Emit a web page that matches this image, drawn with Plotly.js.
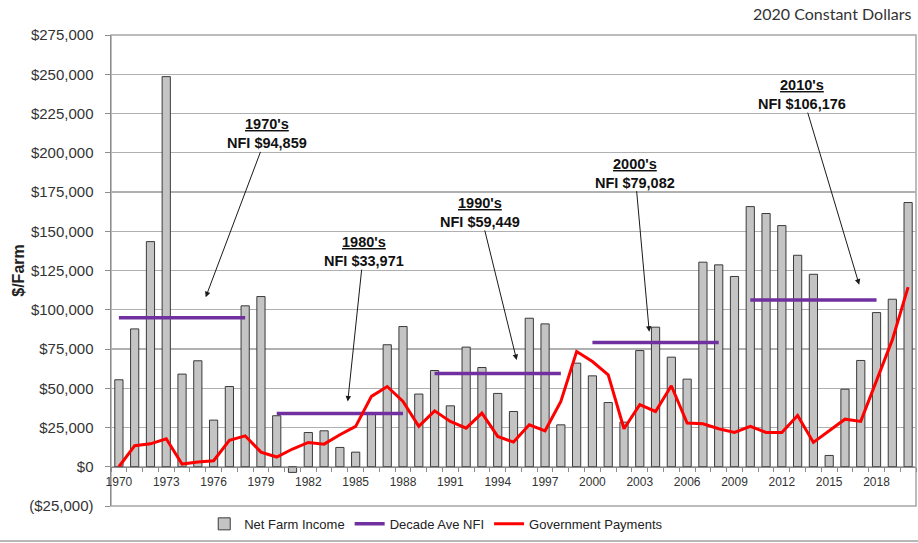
<!DOCTYPE html>
<html>
<head>
<meta charset="utf-8">
<script src="https://cdn.plot.ly/plotly-3.0.1.min.js"></script>
<style>
  html, body { margin: 0; padding: 0; background: #ffffff; }
  #chart { width: 918px; height: 543px; }
</style>
</head>
<body>
<div id="chart"></div>
<script>
// Farm income per farm, 1970-2020, in 2020 constant dollars
const years = [
  1970, 1971, 1972, 1973, 1974, 1975, 1976, 1977, 1978, 1979,
  1980, 1981, 1982, 1983, 1984, 1985, 1986, 1987, 1988, 1989,
  1990, 1991, 1992, 1993, 1994, 1995, 1996, 1997, 1998, 1999,
  2000, 2001, 2002, 2003, 2004, 2005, 2006, 2007, 2008, 2009,
  2010, 2011, 2012, 2013, 2014, 2015, 2016, 2017, 2018, 2019, 2020
];

// Net farm income, $/farm
const netFarmIncome = [
  55400, 87800, 143400, 248500, 59000, 67500, 29700, 51100, 102500, 108400,
  32500, -3600, 21800, 22900, 12300, 9300, 34000, 77700, 89300, 46300,
  61300, 38800, 76200, 63200, 46700, 35200, 94600, 91000, 26700, 66000,
  57900, 40900, 28400, 74000, 88900, 69800, 55800, 130300, 128600, 121200,
  165700, 161300, 153600, 134700, 122600, 7200, 49400, 67700, 98200, 106700, 168300
];

// Government payments, $/farm
const govPayments = [
  0, 13400, 14600, 17800, 1700, 3000, 3800, 16800, 19700, 9300,
  6200, 11300, 15500, 14400, 20400, 25700, 44800, 51100, 41600, 25700,
  35600, 28900, 24600, 34200, 19300, 15700, 26700, 22900, 41600, 73400,
  67000, 58600, 24200, 39500, 35200, 51600, 27800, 27400, 24200, 21800,
  25700, 21800, 21800, 32700, 15500, 22700, 30300, 28900, 54300, 80800, 114400
];

// Decade averages of net farm income
const decadeLabels = ["1970's", "1980's", "1990's", "2000's", "2010's"];
const decadeStart  = [1970, 1980, 1990, 2000, 2010];
const decadeEnd    = [1978, 1988, 1998, 2008, 2018];
const decadeAvg    = [94859, 33971, 59449, 79082, 106176];

// Axis ticks
const xTickYears = [1970, 1973, 1976, 1979, 1982, 1985, 1988, 1991, 1994, 1997, 2000, 2003, 2006, 2009, 2012, 2015, 2018];
const yTickVals = [-25000, 0, 25000, 50000, 75000, 100000, 125000, 150000, 175000, 200000, 225000, 250000, 275000];
const yTickText = ['($25,000)', '$0', '$25,000', '$50,000', '$75,000', '$100,000', '$125,000',
                   '$150,000', '$175,000', '$200,000', '$225,000', '$250,000', '$275,000'];

// Callout placement for each decade label: text centre and arrow tip (year, $)
const calloutTextYear = [1979.4, 1985.5, 1992.9, 2002.7, 2013.3];
const calloutTextY    = [212000, 137000, 162000, 187000, 237000];
const calloutTipYear  = [1975.5, 1984.5, 1995.2, 2003.6, 2016.9];
const calloutTipY     = [108000, 41600, 68000, 86000, 116000];

const fmtMoney = v => '$' + v.toLocaleString('en-US');

// Decade average segments joined into one trace with gaps
const decX = [], decY = [];
decadeStart.forEach((s, i) => {
  decX.push(s, decadeEnd[i], null);
  decY.push(decadeAvg[i], decadeAvg[i], null);
});

// Tick marks sit on the boundaries between yearly bars
const boundaries = years.concat([years[years.length - 1] + 1]).map(y => y - 0.5);

const FONT = 'Liberation Sans, Arial, sans-serif';
const xRange = [years[0] - 0.5, years[years.length - 1] + 0.5];
const yRange = [yTickVals[0], yTickVals[yTickVals.length - 1]];
const zeroPos = (0 - yRange[0]) / (yRange[1] - yRange[0]);

const traces = [
  {
    type: 'bar', name: 'Net Farm Income',
    x: years, y: netFarmIncome,
    marker: { color: '#c4c4c4', line: { color: '#3a3a3a', width: 1 } },
    hoverinfo: 'x+y'
  },
  {
    type: 'scatter', mode: 'lines', name: 'Decade Ave NFI',
    x: decX, y: decY, connectgaps: false,
    line: { color: '#7030a0', width: 3.5 }
  },
  {
    type: 'scatter', mode: 'lines', name: 'Government Payments',
    x: years, y: govPayments,
    line: { color: '#ff0000', width: 3 }
  }
];

const annotations = decadeLabels.map((lab, i) => ({
  xref: 'x', yref: 'y', axref: 'x', ayref: 'y',
  x: calloutTipYear[i], y: calloutTipY[i],
  ax: calloutTextYear[i], ay: calloutTextY[i],
  text: '<b><u>' + lab + '</u></b><br><b>NFI ' + fmtMoney(decadeAvg[i]) + '</b>',
  showarrow: true, arrowhead: 2, arrowsize: 1.1, arrowwidth: 1, arrowcolor: '#1a1a1a',
  font: { family: FONT, size: 14.5, color: '#111111' },
  align: 'center', borderpad: 0
}));

annotations.push({
  xref: 'paper', yref: 'paper', x: 0.9963, y: 1.0446,
  xanchor: 'right', yanchor: 'middle', showarrow: false,
  text: '2020 Constant Dollars',
  font: { family: 'Lato, Open Sans, sans-serif', size: 16, color: '#333333' }
});

const layout = {
  width: 918, height: 543,
  margin: { l: 111, r: 2, t: 35, b: 37 },
  paper_bgcolor: '#ffffff', plot_bgcolor: '#ffffff',
  bargap: 0.48,
  showlegend: true,
  legend: {
    orientation: 'h', x: 0.404, xanchor: 'center', y: -0.038, yanchor: 'middle',
    font: { family: FONT, size: 13, color: '#222222' },
    bgcolor: 'rgba(0,0,0,0)', traceorder: 'normal'
  },
  xaxis: {
    type: 'linear', range: xRange,
    anchor: 'free', position: zeroPos,
    showline: true, linecolor: '#8c8c8c', linewidth: 1,
    showgrid: false, zeroline: false,
    tickmode: 'array', tickvals: xTickYears, ticktext: xTickYears.map(String),
    ticks: '', ticklabelstandoff: 4,
    minor: { tickmode: 'array', tickvals: boundaries, ticks: 'outside', ticklen: 4, tickcolor: '#8c8c8c', showgrid: false },
    tickfont: { family: FONT, size: 12, color: '#333333' },
    fixedrange: true
  },
  xaxis2: {
    type: 'linear', range: xRange, overlaying: 'x',
    anchor: 'free', position: zeroPos,
    showline: false, showgrid: false, zeroline: false,
    tickmode: 'array', tickvals: boundaries, ticks: 'inside', ticklen: 4, tickcolor: '#8c8c8c',
    showticklabels: false, fixedrange: true
  },
  yaxis: {
    range: yRange,
    tickmode: 'array', tickvals: yTickVals, ticktext: yTickText,
    ticks: 'outside', ticklen: 5, tickcolor: '#8c8c8c',
    ticklabelstandoff: 8,
    showline: true, linecolor: '#8c8c8c', linewidth: 1.5,
    showgrid: true, gridcolor: '#b0b0b0', gridwidth: 1.2,
    zeroline: false,
    tickfont: { family: FONT, size: 15, color: '#333333' },
    title: { text: '<b>$/Farm</b>', standoff: 0, font: { family: FONT, size: 16, color: '#222222' } },
    fixedrange: true
  },
  shapes: [
    { type: 'rect', xref: 'paper', yref: 'paper', x0: 0, x1: 1, y0: 0, y1: 1,
      line: { color: '#a6a6a6', width: 1.5 }, layer: 'below' },
    { type: 'line', xref: 'paper', yref: 'paper', x0: -0.14, x1: 1.01, y0: -0.0743, y1: -0.0743,
      line: { color: '#a0a0a0', width: 1.5 } }
  ],
  annotations: annotations
};

Plotly.newPlot('chart', traces, layout, { displayModeBar: false, staticPlot: true });
</script>
</body>
</html>
